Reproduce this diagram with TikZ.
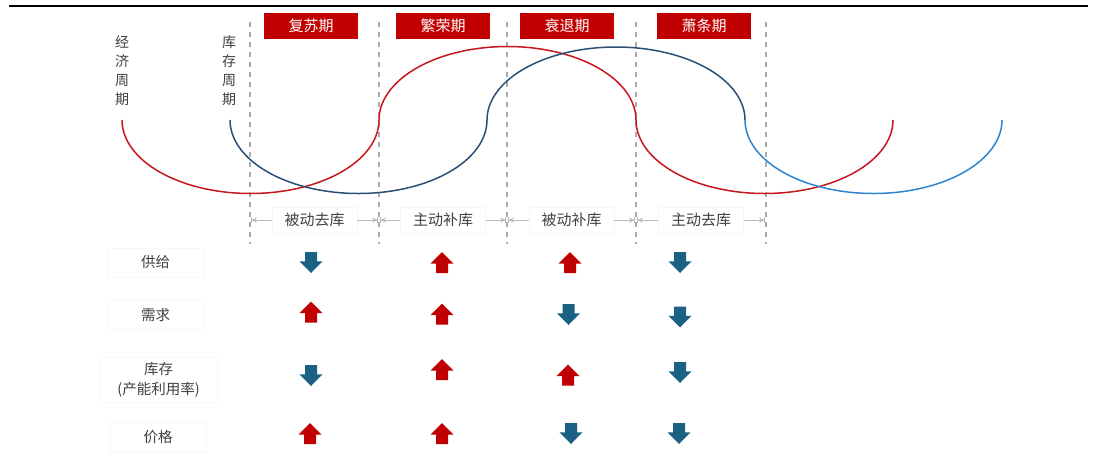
\documentclass[tikz,border=0pt]{standalone}
\usepackage{fontspec}
\setmainfont{Noto Sans CJK SC}
\usetikzlibrary{arrows.meta}
\definecolor{hdrred}{HTML}{C00000}
\definecolor{curvered}{HTML}{C8161D}
\definecolor{darkblue}{HTML}{2B4F76}
\definecolor{lightblue}{HTML}{2D85CF}
\definecolor{arrred}{HTML}{C00000}
\definecolor{arrblue}{HTML}{1B6184}
\definecolor{txt}{HTML}{404040}
\definecolor{dashgray}{HTML}{ABABAB}
\tikzset{
  hdr/.style={fill=hdrred, text=white, minimum width=94pt, minimum height=26pt, inner sep=0pt, font=\fontsize{15}{17}\selectfont},
  dashln/.style={draw=dashgray, line width=1.3pt, dash pattern=on 5pt off 5pt},
  phase/.style={fill=white, draw=black!3, minimum width=85pt, minimum height=26pt, inner sep=0pt, text=txt, font=\fontsize{15}{17}\selectfont},
  phasearr/.style={draw=black!28, line width=1pt, -{Stealth[length=5pt,width=5pt]Bar[width=6pt,line width=0.8pt]}, shorten >=1pt},
  rowlbl/.style={fill=white, draw=black!3, inner sep=0pt, text=txt, align=center, font=\fontsize{14.5}{20}\selectfont},
  vlbl/.style={inner sep=0pt, text=txt, align=center, font=\fontsize{14}{19}\selectfont},
  redc/.style={draw=curvered, line width=1.5pt},
  dbc/.style={draw=darkblue, line width=1.5pt},
  lbc/.style={draw=lightblue, line width=1.5pt},
  uparr/.pic={\fill[arrred] (0,-10.5)--(11.5,1.2)--(6,1.2)--(6,10.5)--(-6,10.5)--(-6,1.2)--(-11.5,1.2)--cycle;},
  dnarr/.pic={\fill[arrblue] (0,10.5)--(11.5,-1.2)--(6,-1.2)--(6,-10.5)--(-6,-10.5)--(-6,-1.2)--(-11.5,-1.2)--cycle;}
}
\begin{document}
\begin{tikzpicture}[x=1pt,y=-1pt]
\useasboundingbox (0,0) rectangle (1099,459);
\fill[white] (0,0) rectangle (1099,459);
% top rule
\draw[line width=2.6pt] (9,6) -- (1088,6);
% headers
\node[hdr] (h1) at (311,26) {复苏期};
\node[hdr] (h2) at (443,26) {繁荣期};
\node[hdr] (h3) at (567,26) {衰退期};
\node[hdr] (h4) at (704,26) {萧条期};
% dashed separators
\foreach \x/\n in {250/1,379/2,507/3,636/4,766/5}{
  \draw[dashln] (\x,22) -- (\x,244);
  \coordinate (d\n) at (\x,220);
}
% vertical labels
\node[vlbl] (ec) at (122,71) {经\\济\\周\\期};
\node[vlbl] (ic) at (229,71) {库\\存\\周\\期};
% economic cycle (red)
\draw[redc] plot[domain=180:0, samples=73, smooth, variable=\t] ({250.5+128.5*cos(\t)},{120+73.5*sin(\t)})
  -- plot[domain=180:0, samples=73, smooth, variable=\t] ({507.5+128.5*cos(\t)},{120-73.5*sin(\t)})
  -- plot[domain=180:0, samples=73, smooth, variable=\t] ({764.5+128.5*cos(\t)},{120+73.5*sin(\t)});
% inventory cycle (blue)
\draw[dbc] plot[domain=180:0, samples=73, smooth, variable=\t] ({358.5+128.5*cos(\t)},{120+73.5*sin(\t)})
  -- plot[domain=180:0, samples=73, smooth, variable=\t] ({616+129*cos(\t)},{120-73*sin(\t)});
\draw[lbc] plot[domain=180:0, samples=73, smooth, variable=\t] ({873.5+128.5*cos(\t)},{120+73.5*sin(\t)});
% phase labels
\node[phase] (p1) at (314.5,220) {被动去库};
\node[phase] (p2) at (443,220) {主动补库};
\node[phase] (p3) at (571.5,220) {被动补库};
\node[phase] (p4) at (701,220) {主动去库};
\draw[phasearr] (p1.west) -- (d1);
\draw[phasearr] (p1.east) -- (d2);
\draw[phasearr] (p2.west) -- (d2);
\draw[phasearr] (p2.east) -- (d3);
\draw[phasearr] (p3.west) -- (d3);
\draw[phasearr] (p3.east) -- (d4);
\draw[phasearr] (p4.west) -- (d4);
\draw[phasearr] (p4.east) -- (d5);
% row labels
\node[rowlbl, minimum width=95pt, minimum height=29pt] (r1) at (155.5,262.5) {供给};
\node[rowlbl, minimum width=95pt, minimum height=29pt] (r2) at (155.5,315) {需求};
\node[rowlbl, minimum width=117pt, minimum height=45pt] (r3) at (158.5,380) {库存\\(产能利用率)};
\node[rowlbl, minimum width=96pt, minimum height=30pt] (r4) at (158,437.5) {价格};
% trend arrows
\pic at (311,262.5) {dnarr};
\pic at (442,262.5) {uparr};
\pic at (570,262.5) {uparr};
\pic at (680,262.5) {dnarr};
\pic at (311,312) {uparr};
\pic at (442,314) {uparr};
\pic at (568.5,314.5) {dnarr};
\pic at (680,317) {dnarr};
\pic at (311,375.5) {dnarr};
\pic at (442,369.5) {uparr};
\pic at (568,375) {uparr};
\pic at (680,372.5) {dnarr};
\pic at (310,433.5) {uparr};
\pic at (442,433.5) {uparr};
\pic at (571,433.5) {dnarr};
\pic at (679,433.5) {dnarr};
\end{tikzpicture}
\end{document}
